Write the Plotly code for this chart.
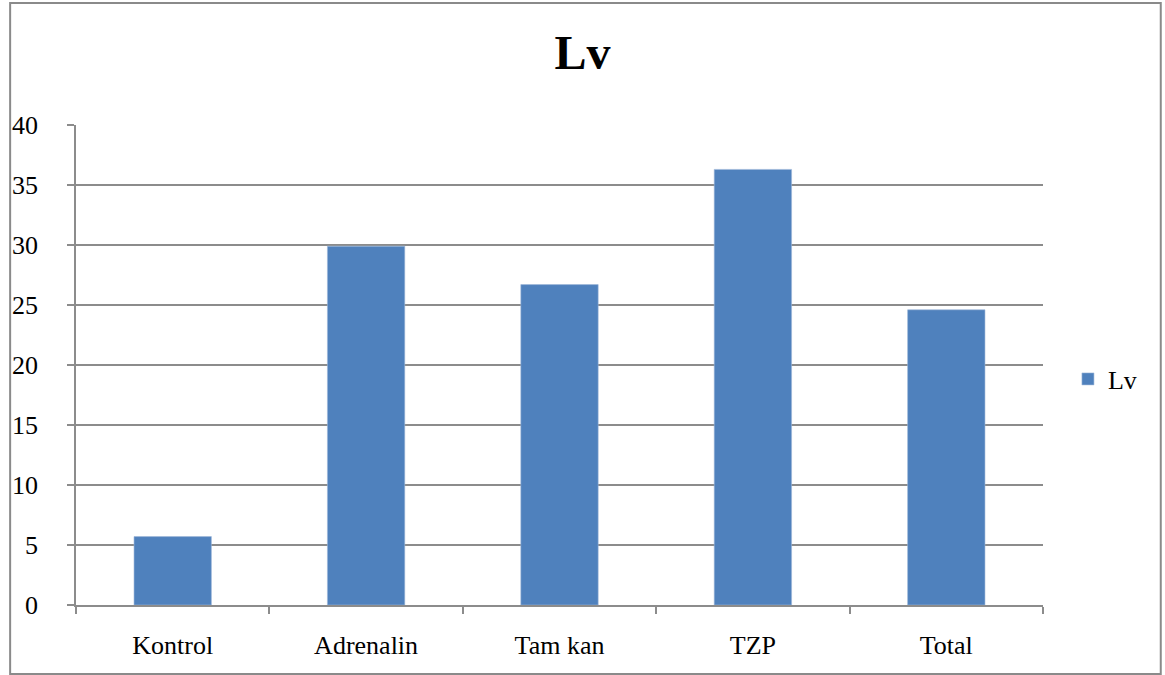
import plotly.graph_objects as go

# Chart data
categories = ["Kontrol", "Adrenalin", "Tam kan", "TZP", "Total"]
lv_values = [5.7, 29.9, 26.7, 36.3, 24.6]
y_ticks = [0, 5, 10, 15, 20, 25, 30, 35, 40]
series_name = "Lv"
chart_title = "Lv"

W, H = 1165, 675
PL, PR, PT, PB = 74, 1043, 125, 605  # plot area in pixels
pw, ph = PR - PL, PB - PT

def px_x(x):
    return (x - PL) / pw

def px_y(y):
    return (PB - y) / ph

FONT = "Liberation Serif"
GRID = "#8c8c8c"
BAR = "#4F81BD"

fig = go.Figure()
fig.add_trace(go.Bar(
    x=categories, y=lv_values, name=series_name,
    marker=dict(color=BAR, line=dict(color="#9db7d8", width=0.6)),
    showlegend=True,
))

fig.update_layout(
    width=W, height=H,
    margin=dict(l=PL, r=W - PR, t=PT, b=H - PB, pad=0),
    paper_bgcolor="white", plot_bgcolor="white",
    bargap=0.6,
    font=dict(family=FONT, size=26, color="black"),
    title=dict(text="<b>%s</b>" % chart_title, x=0.5, xref="container",
               xanchor="center", y=1 - 52 / H, yanchor="middle",
               font=dict(family=FONT, size=48, color="black")),
    legend=dict(x=px_x(1068), y=px_y(379), xanchor="left", yanchor="middle",
                font=dict(family=FONT, size=26), itemwidth=30,
                bgcolor="rgba(0,0,0,0)", tracegroupgap=0),
    xaxis=dict(
        type="category", showline=True, linecolor=GRID, linewidth=1.5,
        ticks="outside", tickson="boundaries", ticklen=7, tickcolor=GRID,
        tickwidth=1.5, showgrid=False, tickfont=dict(family=FONT, size=26),
        ticklabelstandoff=16,
    ),
    yaxis=dict(
        range=[0, 40], tickvals=y_ticks, showline=True, linecolor=GRID,
        linewidth=1.5, ticks="outside", ticklen=7, tickcolor=GRID, tickwidth=1.5,
        showgrid=True, gridcolor=GRID, gridwidth=1.5, zeroline=False,
        tickfont=dict(family=FONT, size=26), ticklabelstandoff=24,
    ),
    shapes=[dict(
        type="rect", xref="paper", yref="paper",
        x0=px_x(8), x1=px_x(1161), y0=px_y(674), y1=px_y(3),
        line=dict(color="#8a8a8a", width=2), fillcolor="rgba(0,0,0,0)",
        layer="below",
    )],
)

fig.write_html("out.html")
